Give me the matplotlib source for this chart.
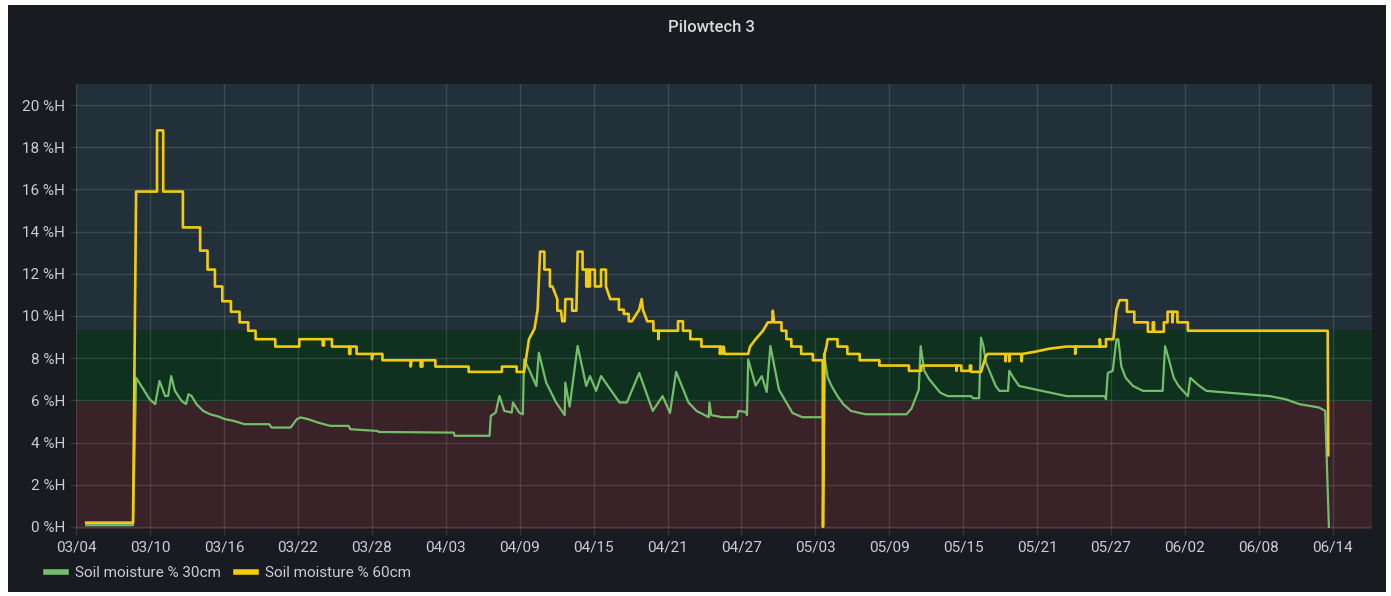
import matplotlib
matplotlib.use("Agg")
import matplotlib.pyplot as plt
import matplotlib.dates as mdates
from matplotlib.patches import Rectangle
from datetime import datetime, timedelta

plt.rcParams['font.family'] = ['Roboto', 'DejaVu Sans']

# start of the series (day 0 = 03/04)
start = datetime(2022, 3, 4)

# Soil moisture % 60cm (days since 03/04, %H)
days_60 = [0.8, 4.6, 4.85, 6.55, 6.55, 7.05, 7.05, 8.65, 8.65, 10.05, 10.05, 10.65, 10.65, 11.25, 11.25,
           11.85, 11.85, 12.55, 12.55, 13.25, 13.25, 13.95, 13.95, 14.55, 14.55, 16.15, 16.15, 18.1, 18.1,
           20.0, 20.0, 20.1, 20.1, 20.75, 20.75, 22.15, 22.15, 22.25, 22.25, 22.75, 22.75, 24.0, 24.0, 24.05,
           24.85, 24.85, 27.15, 27.15, 27.2, 27.95, 27.95, 28.1, 28.1, 29.15, 29.15, 31.85, 31.85, 34.55,
           34.55, 35.75, 35.75, 36.35, 36.75, 37.2, 37.45, 37.65, 38.0, 38.0, 38.45, 38.45, 38.65, 39.05,
           39.05, 39.35, 39.45, 39.65, 39.7, 40.25, 40.25, 40.6, 40.7, 41.1, 41.1, 41.4, 41.4, 41.5, 41.5,
           41.6, 41.6, 41.7, 41.7, 42.1, 42.1, 42.6, 42.6, 43.0, 43.0, 43.35, 44.05, 44.05, 44.45, 44.45,
           44.85, 44.85, 45.1, 45.7, 45.9, 46.0, 46.35, 46.85, 46.85, 47.25, 47.25, 47.3, 48.85, 48.85,
           49.25, 49.25, 49.85, 49.85, 50.75, 50.75, 52.25, 52.25, 52.35, 52.45, 52.55, 52.65, 54.55, 54.7,
           55.15, 55.75, 56.15, 56.5, 56.55, 56.65, 57.25, 57.25, 57.65, 57.65, 58.05, 58.05, 58.85, 58.85,
           59.8, 59.8, 60.6, 60.62, 60.75, 60.9, 61.0, 61.8, 61.8, 62.6, 62.6, 63.6, 63.6, 65.2, 65.2, 67.6,
           67.6, 68.6, 68.6, 71.45, 71.45, 71.5, 71.85, 71.85, 72.55, 72.55, 72.65, 72.65, 73.45, 73.85,
           74.0, 75.45, 75.45, 75.5, 75.75, 75.75, 75.8, 76.75, 76.75, 76.8, 77.8, 79.0, 80.4, 81.1, 81.1,
           81.15, 83.1, 83.1, 83.15, 83.6, 83.6, 84.2, 84.45, 84.7, 85.3, 85.3, 85.9, 85.9, 87.0, 87.0,
           87.4, 87.4, 87.5, 87.5, 88.3, 88.3, 88.6, 88.6, 89.0, 89.0, 89.05, 89.4, 89.4, 90.25, 90.25,
           101.6, 101.65]
vals_60 = [0.2, 0.2, 15.9, 15.9, 18.8, 18.8, 15.9, 15.9, 14.2, 14.2, 13.1, 13.1, 12.2, 12.2, 11.4,
           11.4, 10.7, 10.7, 10.2, 10.2, 9.7, 9.7, 9.3, 9.3, 8.9, 8.9, 8.55, 8.55, 8.9,
           8.9, 8.6, 8.6, 8.9, 8.9, 8.55, 8.55, 8.2, 8.2, 8.55, 8.55, 8.2, 8.2, 7.95, 8.2,
           8.2, 7.9, 7.9, 7.6, 7.9, 7.9, 7.6, 7.6, 7.9, 7.9, 7.6, 7.6, 7.35, 7.35,
           7.6, 7.6, 7.35, 7.35, 8.9, 9.4, 10.3, 13.05, 13.05, 12.2, 12.2, 11.4, 11.4, 10.8,
           10.25, 10.25, 9.75, 9.75, 10.8, 10.8, 10.25, 10.25, 13.05, 13.05, 12.2, 12.2, 11.4, 11.4, 12.2,
           12.2, 11.4, 11.4, 12.2, 12.2, 11.4, 11.4, 12.2, 12.2, 11.4, 10.8, 10.8, 10.3, 10.3, 10.1,
           10.1, 9.75, 9.75, 10.3, 10.8, 10.3, 9.75, 9.75, 9.3, 9.3, 8.9, 9.3, 9.3, 9.75,
           9.75, 9.3, 9.3, 8.9, 8.9, 8.55, 8.55, 8.2, 8.55, 8.2, 8.55, 8.2, 8.2, 8.55,
           8.9, 9.3, 9.7, 9.7, 10.25, 9.7, 9.7, 9.3, 9.3, 8.9, 8.9, 8.55, 8.55, 8.2,
           8.2, 7.9, 7.9, 0.0, 8.2, 8.55, 8.9, 8.9, 8.55, 8.55, 8.2, 8.2, 7.9, 7.9, 7.65, 7.65,
           7.4, 7.4, 7.65, 7.65, 7.4, 7.65, 7.65, 7.4, 7.4, 7.65, 7.65, 7.35, 7.35, 8.1,
           8.2, 8.2, 7.85, 8.2, 8.2, 7.85, 8.2, 8.2, 7.85, 8.2, 8.3, 8.45, 8.55, 8.55, 8.2,
           8.55, 8.55, 8.9, 8.55, 8.55, 8.9, 8.9, 10.3, 10.75, 10.75, 10.2, 10.2, 9.7, 9.7, 9.25,
           9.25, 9.7, 9.7, 9.25, 9.25, 9.7, 9.7, 10.2, 10.2, 9.7, 10.2, 10.2, 9.7, 9.7, 9.3,
           9.3, 3.4]

# Soil moisture % 30cm (days since 03/04, %H)
days_30 = [0.8, 4.6, 4.85, 5.45, 5.95, 6.4, 6.75, 7.2, 7.45, 7.7, 8.0, 8.55, 8.9, 9.1, 9.35, 9.75,
           10.3, 10.85, 11.55, 12.05, 12.75, 13.65, 15.65, 15.85, 17.4, 17.9, 18.2, 18.8, 19.6, 20.6,
           22.1, 22.25, 24.45, 24.55, 30.65, 30.7, 33.55, 33.65, 34.05, 34.35, 34.75, 35.35, 35.45,
           35.95, 36.25, 36.35, 36.75, 37.35, 37.55, 38.15, 38.95, 39.65, 39.7, 40.05, 40.7, 41.4,
           41.7, 42.2, 42.6, 44.1, 44.7, 45.7, 46.8, 47.6, 48.2, 48.7, 49.7, 50.35, 51.35, 51.4, 51.55,
           52.45, 53.65, 53.75, 54.35, 54.45, 54.55, 55.15, 55.65, 56.05, 56.35, 57.05, 58.15, 58.95,
           60.6, 60.7, 61.0, 61.3, 61.8, 62.3, 62.9, 63.6, 64.1, 67.4, 67.8, 68.2, 68.4, 68.55, 68.85,
           69.25, 70.15, 70.75, 72.65, 72.8, 73.3, 73.45, 73.65, 73.85, 74.65, 74.95, 75.65, 75.75,
           76.05, 76.55, 80.4, 83.5, 83.6, 83.75, 84.15, 84.45, 84.6, 84.85, 85.2, 85.8, 86.6, 88.2,
           88.4, 88.7, 89.1, 89.5, 90.25, 90.45, 90.95, 91.2, 91.75, 96.9, 98.2, 99.3, 100.9, 101.4,
           101.7]
vals_30 = [0.08, 0.08, 7.07, 6.52, 6.05, 5.82, 6.92, 6.21, 6.21, 7.15, 6.45, 5.97, 5.82, 6.29, 6.21, 5.82,
           5.5, 5.34, 5.23, 5.11, 5.03, 4.87, 4.87, 4.71, 4.71, 5.11, 5.19, 5.11, 4.95, 4.79,
           4.79, 4.63, 4.55, 4.5, 4.47, 4.32, 4.32, 5.26, 5.42, 6.21, 5.5, 5.42, 5.9,
           5.42, 5.34, 7.94, 7.47, 6.68, 8.26, 6.84, 5.9, 5.3, 6.84, 5.7, 8.58, 6.68,
           7.15, 6.45, 7.15, 5.9, 5.9, 7.3, 5.5, 6.2, 5.4, 7.35, 5.9, 5.5, 5.2, 5.9, 5.3,
           5.2, 5.2, 5.5, 5.45, 5.3, 7.94, 6.7, 7.15, 6.4, 8.58, 6.5, 5.4, 5.2,
           5.2, 8.2, 7.1, 6.7, 6.2, 5.8, 5.5, 5.4, 5.34, 5.34, 5.6, 6.2, 6.5, 8.57, 7.4,
           7.0, 6.36, 6.2, 6.2, 6.1, 6.1, 8.97, 8.57, 7.8, 6.68, 6.45, 6.45, 7.4,
           7.1, 6.68, 6.2, 6.2, 6.05, 7.3, 7.4, 8.9, 8.9, 7.6, 7.07, 6.68, 6.45, 6.45,
           8.57, 7.95, 7.07, 6.68, 6.2, 7.07, 6.8, 6.68, 6.45, 6.2, 6.05, 5.82, 5.66, 5.5,
           0.0]

# background threshold bands (%H)
low_limit = 5.9
high_limit = 9.35

tick_days = list(range(0, 103, 6))

t60 = [start + timedelta(days=d) for d in days_60]
t30 = [start + timedelta(days=d) for d in days_30]

fig = plt.figure(figsize=(13.91, 5.96), dpi=100, facecolor='white')
fig.patches.append(Rectangle((8 / 1391, 1 - 592 / 596), 1378 / 1391, 587 / 596,
                             transform=fig.transFigure, facecolor='#181b1f', edgecolor='none', zorder=-10))

ax = fig.add_axes([76 / 1391, 1 - 529 / 596, 1296 / 1391, 445 / 596])
ax.set_facecolor('#22303a')
ax.axhspan(-1, low_limit, color='#3a2229', zorder=0.1, lw=0)
ax.axhspan(low_limit, high_limit, color='#10311f', zorder=0.1, lw=0)

ax.plot(t30, vals_30, color='#73bf69', lw=1.6, label='Soil moisture % 30cm', zorder=3)
ax.plot(t60, vals_60, color='#f2cc0c', lw=1.9, label='Soil moisture % 60cm', zorder=4)

ax.set_ylim(-0.1, 21)
ax.set_xlim(start + timedelta(days=-0.03), start + timedelta(days=105.2))
ax.set_yticks(range(0, 21, 2))
ax.set_yticklabels([f'{v} %H' for v in range(0, 21, 2)])
ax.set_xticks([start + timedelta(days=d) for d in tick_days])
ax.xaxis.set_major_formatter(mdates.DateFormatter('%m/%d'))

ax.set_axisbelow(True)
ax.grid(True, color='#ffffff', alpha=0.12, lw=1)
for s in ax.spines.values():
    s.set_visible(False)
ax.tick_params(colors='#ccccdc', labelsize=11, length=4, width=1)
ax.tick_params(axis='both', color=(1, 1, 1, 0.12))
ax.tick_params(axis='x', pad=4)
ax.tick_params(axis='y', pad=4)

fig.text(711 / 1391, 1 - 28 / 596, 'Pilowtech 3', color='#d8d9da', fontsize=12,
         fontweight='medium', ha='center', va='center')

leg = fig.legend(loc='center left', bbox_to_anchor=(32 / 1391, 1 - 573 / 596), ncol=2,
                 frameon=False, fontsize=11, handlelength=1.3, handletextpad=0.6,
                 columnspacing=1.0, labelcolor='#ccccdc')
for h in leg.get_lines():
    h.set_linewidth(4)

fig.savefig('out.png', dpi=100, facecolor='white')
